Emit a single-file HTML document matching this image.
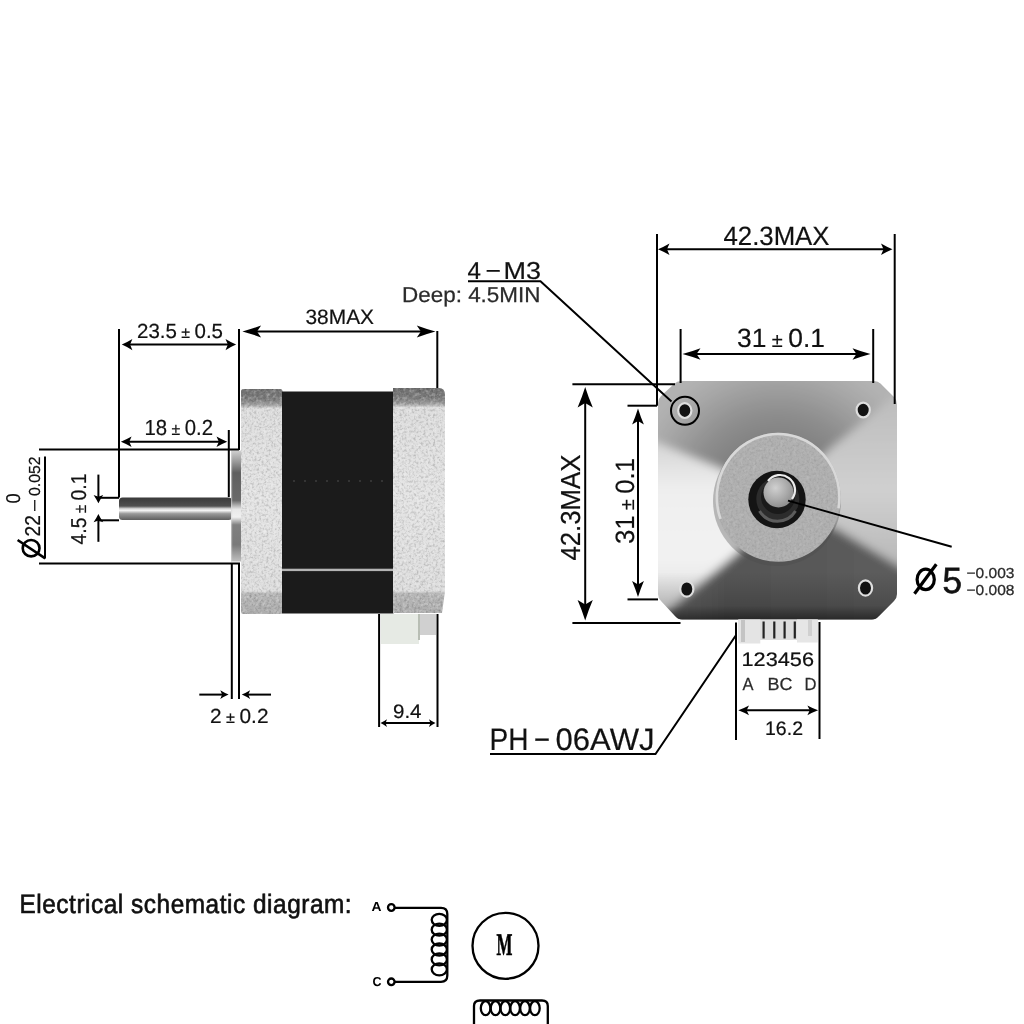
<!DOCTYPE html>
<html><head><meta charset="utf-8">
<style>
html,body{margin:0;padding:0;background:#fff;}
body{width:1024px;height:1024px;position:relative;overflow:hidden;font-family:"Liberation Sans",sans-serif;-webkit-font-smoothing:antialiased;}
svg{position:absolute;left:0;top:0;will-change:transform;}
.plate{position:absolute;left:657px;top:381px;width:240px;height:239px;
 clip-path:polygon(20px 0,216px 0,239px 17px,239px 214px,218px 239px,22px 239px,0 215px,0 21px);
 background:linear-gradient(to bottom,rgba(0,0,0,0) 82%,rgba(0,0,0,0.18) 96%,rgba(0,0,0,0.45) 100%),
 conic-gradient(from 0deg at 121px 118px,#7e7e7e 0deg,#8c8c8c 25deg,#acacac 44deg,#c6c6c6 58deg,#d0d0d0 95deg,#bdbdbd 112deg,#707070 128deg,#565656 180deg,#595959 220deg,#cfcfcf 233deg,#ececec 246deg,#f2f2f2 278deg,#cdcdcd 290deg,#9e9e9e 302deg,#8a8a8a 335deg,#7e7e7e 360deg);}
</style></head>
<body>
<svg width="1024" height="1024" viewBox="0 0 1024 1024" text-rendering="geometricPrecision">
<defs>
  <linearGradient id="shaftG" x1="0" y1="0" x2="0" y2="1">
    <stop offset="0" stop-color="#3a3a3a"/>
    <stop offset="0.38" stop-color="#505050"/>
    <stop offset="0.5" stop-color="#d8d8d8"/>
    <stop offset="0.58" stop-color="#f4f4f4"/>
    <stop offset="0.72" stop-color="#9a9a9a"/>
    <stop offset="1" stop-color="#5e5e5e"/>
  </linearGradient>
  <linearGradient id="bossG" x1="0" y1="0" x2="0" y2="1">
    <stop offset="0" stop-color="#d0d0d0"/>
    <stop offset="0.1" stop-color="#9a9a9a"/>
    <stop offset="0.2" stop-color="#606060"/>
    <stop offset="0.45" stop-color="#6a6a6a"/>
    <stop offset="0.53" stop-color="#e8e8e8"/>
    <stop offset="0.6" stop-color="#f0f0f0"/>
    <stop offset="0.67" stop-color="#808080"/>
    <stop offset="0.85" stop-color="#7a7a7a"/>
    <stop offset="1" stop-color="#c0c0c0"/>
  </linearGradient>
  <linearGradient id="capG" x1="0" y1="0" x2="0" y2="1">
    <stop offset="0" stop-color="#6c6c6c"/>
    <stop offset="0.05" stop-color="#7e7e7e"/>
    <stop offset="0.075" stop-color="#a0a0a0"/>
    <stop offset="0.09" stop-color="#dedede"/>
    <stop offset="0.5" stop-color="#e4e4e4"/>
    <stop offset="0.895" stop-color="#dedede"/>
    <stop offset="0.905" stop-color="#b8b8b8"/>
    <stop offset="1" stop-color="#acacac"/>
  </linearGradient>
  <radialGradient id="shaftF" cx="0.4" cy="0.35" r="0.7">
    <stop offset="0" stop-color="#d0d0d0"/>
    <stop offset="0.6" stop-color="#a8a8a8"/>
    <stop offset="1" stop-color="#8a8a8a"/>
  </radialGradient>
  <marker id="ah" viewBox="0 0 13 13" refX="13" refY="6.5" markerWidth="13" markerHeight="13" markerUnits="userSpaceOnUse" orient="auto-start-reverse">
    <path d="M13 6.5 L0.5 0.8 L3 6.5 L0.5 12.2 Z" fill="#000"/>
  </marker>
  <marker id="ahs" viewBox="0 0 10 10" refX="10" refY="5" markerWidth="10" markerHeight="10" markerUnits="userSpaceOnUse" orient="auto-start-reverse">
    <path d="M10 5 L0.8 0.4 L2.8 5 L0.8 9.6 Z" fill="#000"/>
  </marker>
  <filter id="nzd" x="0" y="0" width="1" height="1">
    <feTurbulence type="fractalNoise" baseFrequency="0.42" numOctaves="2" seed="4"/>
    <feColorMatrix type="matrix" values="0 0 0 0 0  0 0 0 0 0  0 0 0 0 0  2.0 0 0 0 -0.9"/>
    <feComposite in2="SourceAlpha" operator="in"/>
  </filter>
  <filter id="nzl" x="0" y="0" width="1" height="1">
    <feTurbulence type="fractalNoise" baseFrequency="0.3" numOctaves="2" seed="9"/>
    <feColorMatrix type="matrix" values="0 0 0 0 1  0 0 0 0 1  0 0 0 0 1  2.0 0 0 0 -0.9"/>
    <feComposite in2="SourceAlpha" operator="in"/>
  </filter>
  <clipPath id="capL"><rect x="241" y="389" width="41.5" height="225" rx="2.5"/></clipPath>
  <clipPath id="capR"><path d="M393 388 H439 Q445 388 445 395 V591 L442 613 H393 Z"/></clipPath>
  <clipPath id="bossC"><ellipse cx="778.1" cy="497.3" rx="62.5" ry="64.5"/></clipPath>
</defs>

<!-- shaft -->
<rect x="119" y="497.5" width="113" height="22.5" rx="3.5" fill="url(#shaftG)"/>
<!-- boss -->
<rect x="231" y="450.5" width="10.5" height="111" fill="url(#bossG)"/><rect x="231" y="450.5" width="1.2" height="111" fill="#d8d8d8" opacity="0.6"/>
<!-- front endcap -->
<g clip-path="url(#capL)">
  <rect x="240" y="388" width="44" height="227" fill="url(#capG)"/>
  <rect x="240" y="388" width="44" height="227" fill="#000" filter="url(#nzd)" opacity="0.22"/>
  <rect x="240" y="388" width="44" height="227" fill="#fff" filter="url(#nzl)" opacity="0.4"/>
</g>
<!-- black body -->
<rect x="282" y="391.5" width="111.5" height="222" fill="#1b1b1b"/>
<rect x="282" y="568.7" width="111" height="2.4" fill="#b4b4b4"/>
<g fill="#555"><circle cx="294" cy="481" r="0.8"/><circle cx="305" cy="481" r="0.8"/><circle cx="316" cy="481" r="0.8"/><circle cx="327" cy="481" r="0.8"/><circle cx="338" cy="481" r="0.8"/><circle cx="349" cy="481" r="0.8"/><circle cx="360" cy="481" r="0.8"/><circle cx="371" cy="481" r="0.8"/><circle cx="382" cy="481" r="0.8"/></g>
<!-- rear endcap -->
<g clip-path="url(#capR)">
  <rect x="392" y="387" width="54" height="228" fill="url(#capG)"/>
  <rect x="392" y="387" width="54" height="228" fill="#000" filter="url(#nzd)" opacity="0.22"/>
  <rect x="392" y="387" width="54" height="228" fill="#fff" filter="url(#nzl)" opacity="0.4"/>
</g>
<!-- connector side -->
<rect x="381" y="614" width="38" height="30" fill="#e6eae4"/>
<rect x="418" y="614" width="2" height="26" fill="#b8beb4"/>
<rect x="420" y="614" width="16" height="21" fill="#d0d0d0"/>

<!-- ============ FRONT PLATE ============ -->
<clipPath id="plateC"><path d="M677 381 H874 Q878 381 881 384 L894 397 Q897 400 897 404 V594 Q897 598 894 601 L879 616 Q876 619.5 872 619.5 H682 Q678 619.5 675 616 L661 601 Q658 598 658 594 V403 Q658 399 661 396 L674 384 Q677 381 681 381 Z"/></clipPath>
<filter id="pblur" x="-10%" y="-10%" width="120%" height="120%"><feGaussianBlur stdDeviation="5"/></filter>
<radialGradient id="pTop" cx="778" cy="505" r="150" gradientUnits="userSpaceOnUse">
  <stop offset="0.4" stop-color="#7e7e7e"/><stop offset="0.62" stop-color="#8e8e8e"/><stop offset="0.85" stop-color="#a6a6a6"/><stop offset="1" stop-color="#b2b2b2"/>
</radialGradient>
<linearGradient id="pRight" x1="0" y1="400" x2="0" y2="580" gradientUnits="userSpaceOnUse">
  <stop offset="0" stop-color="#bdbdbd"/><stop offset="0.5" stop-color="#d0d0d0"/><stop offset="1" stop-color="#b4b4b4"/>
</linearGradient>
<linearGradient id="pBot" x1="657" y1="0" x2="897" y2="0" gradientUnits="userSpaceOnUse">
  <stop offset="0" stop-color="#6a6a6a"/><stop offset="0.3" stop-color="#565656"/><stop offset="1" stop-color="#5c5c5c"/>
</linearGradient>
<linearGradient id="pLeft" x1="0" y1="440" x2="0" y2="610" gradientUnits="userSpaceOnUse">
  <stop offset="0" stop-color="#d4d4d4"/><stop offset="0.3" stop-color="#efefef"/><stop offset="0.7" stop-color="#f2f2f2"/><stop offset="1" stop-color="#dcdcdc"/>
</linearGradient>
<linearGradient id="pShade" x1="0" y1="381" x2="0" y2="620" gradientUnits="userSpaceOnUse">
  <stop offset="0.8" stop-color="#000" stop-opacity="0"/><stop offset="0.94" stop-color="#000" stop-opacity="0.18"/><stop offset="1" stop-color="#000" stop-opacity="0.55"/>
</linearGradient>
<g clip-path="url(#plateC)">
 <g filter="url(#pblur)">
  <polygon points="778,499 718,468 630,432 630,350 930,350 925,372 833,447" fill="url(#pTop)"/>
  <polygon points="778,499 833,447 925,372 930,585 839,530" fill="url(#pRight)"/>
  <polygon points="778,499 839,530 930,585 930,650 630,650 650,625 738,552" fill="url(#pBot)"/>
  <polygon points="778,499 738,552 650,625 630,625 630,432 718,468" fill="url(#pLeft)"/>
 </g>
 <rect x="650" y="375" width="260" height="250" fill="url(#pShade)"/>
</g>

<!-- boss front -->
<ellipse cx="777" cy="501" rx="64" ry="65" fill="#4a4a4a" opacity="0.35"/>
<g clip-path="url(#bossC)">
  <rect x="714" y="432" width="132" height="132" fill="#b0b0b0"/>
  <rect x="714" y="432" width="132" height="132" fill="#000" filter="url(#nzd)" opacity="0.1"/>
  <rect x="714" y="432" width="132" height="132" fill="#fff" filter="url(#nzl)" opacity="0.15"/>
</g>
<path d="M720.5 518.9 A61.3 63.3 0 1 1 838.5 508.3" fill="none" stroke="#d8d8d8" stroke-width="2.6"/>
<circle cx="777" cy="499.5" r="28.7" fill="#141414"/>
<circle cx="777.8" cy="499" r="21.5" fill="#2c2c2c"/>
<circle cx="778" cy="497" r="17" fill="#1a1a1a"/>
<path d="M795.5 511 A21 21 0 0 1 759.5 511" fill="none" stroke="#5c5c5c" stroke-width="3"/>
<circle cx="778.5" cy="492.5" r="15" fill="url(#shaftF)"/>
<path d="M768 481 A15 15 0 0 1 792 499" fill="none" stroke="#ececec" stroke-width="2.2"/>
<!-- holes -->
<g fill="#121212" stroke="#dedede" stroke-width="2.2">
  <ellipse cx="684.8" cy="410.6" rx="6.6" ry="7.4"/>
  <ellipse cx="863.2" cy="410" rx="6.6" ry="7.4"/>
  <ellipse cx="686.8" cy="589" rx="6.6" ry="7.6"/>
  <ellipse cx="865.5" cy="588" rx="6.6" ry="7.6"/>
</g>
<!-- connector front -->
<rect x="738.3" y="619.5" width="79.5" height="20.5" fill="#dcdcdc"/>
<rect x="738.3" y="619.5" width="22" height="24" fill="#e4e4e4"/>
<rect x="741" y="620" width="4" height="22" fill="#c4c4c4"/>
<rect x="797" y="619.5" width="20.8" height="23" fill="#e6e6e6"/>
<rect x="808" y="620" width="4" height="16" fill="#d0d0d0"/>
<g fill="#222"><rect x="762.5" y="621.5" width="2.2" height="17"/><rect x="773.2" y="621.5" width="2.2" height="17"/><rect x="783.5" y="621.5" width="2.2" height="17"/><rect x="793.7" y="621.5" width="2.2" height="17"/></g>

<g stroke="#000" stroke-width="2" fill="none">
  <path d="M119 329 V497.5"/>
  <path d="M239 329 V450"/>
  <path d="M437.3 331 V388"/>
  <path d="M228.8 430 V497"/>
  <path d="M39 449.5 H239"/>
  <path d="M39 563.4 H240"/>
  <path d="M45 456.5 V558.4"/>
  <path d="M98.4 497.8 H119"/>
  <path d="M98.4 520.3 H119"/>
  <path d="M231.8 563 V699"/>
  <path d="M239 563 V699"/>
  <path d="M379.1 614 V727"/>
  <path d="M437.5 614 V727"/>
  <path d="M657 234 V405.7"/>
  <path d="M894.7 234 V404"/>
  <path d="M680.6 329 V383"/>
  <path d="M873.2 329 V383"/>
  <path d="M572.4 384.3 H675"/>
  <path d="M572.4 623 H680.5"/>
  <path d="M627.5 405.7 H657"/>
  <path d="M627.5 599.4 H658"/>
  <path d="M736 622.5 V740"/>
  <path d="M819.5 622 V739"/>
  <path d="M468 281.2 H540.5 L671.5 401.6"/>
  <circle cx="685" cy="410.8" r="14"/>
  <path d="M788 500.6 L951.7 546.7"/>
  <path d="M490 754 H655.5 L735.8 635.5"/>
</g>
<g fill="#000"><path d="M128.16 344.6 H229.74" stroke="#000" stroke-width="2" fill="none"/><path d="M121.80 344.60 Q127.10 342.25 132.40 339.00 L130.07 344.60 L132.40 350.20 Q127.10 346.95 121.80 344.60Z"/><path d="M236.10 344.60 Q230.80 346.95 225.50 350.20 L227.83 344.60 L225.50 339.00 Q230.80 342.25 236.10 344.60Z"/><path d="M253.62 331.4 H424.28" stroke="#000" stroke-width="2" fill="none"/><path d="M242.40 331.40 Q251.75 328.88 261.10 325.40 L256.99 331.40 L261.10 337.40 Q251.75 333.92 242.40 331.40Z"/><path d="M435.50 331.40 Q426.15 333.92 416.80 337.40 L420.91 331.40 L416.80 325.40 Q426.15 328.88 435.50 331.40Z"/><path d="M127.32 441.7 H220.78" stroke="#000" stroke-width="2" fill="none"/><path d="M120.90 441.70 Q126.25 439.52 131.60 436.50 L129.25 441.70 L131.60 446.90 Q126.25 443.88 120.90 441.70Z"/><path d="M227.20 441.70 Q221.85 443.88 216.50 446.90 L218.85 441.70 L216.50 436.50 Q221.85 439.52 227.20 441.70Z"/><path d="M384.40 723.1 H431.60" stroke="#000" stroke-width="2" fill="none"/><path d="M380.50 723.10 Q383.75 721.46 387.00 719.20 L385.57 723.10 L387.00 727.00 Q383.75 724.74 380.50 723.10Z"/><path d="M435.50 723.10 Q432.25 724.74 429.00 727.00 L430.43 723.10 L429.00 719.20 Q432.25 721.46 435.50 723.10Z"/><path d="M664.90 249.3 H885.60" stroke="#000" stroke-width="2" fill="none"/><path d="M658.00 249.30 Q663.75 246.86 669.50 243.50 L666.97 249.30 L669.50 255.10 Q663.75 251.74 658.00 249.30Z"/><path d="M892.50 249.30 Q886.75 251.74 881.00 255.10 L883.53 249.30 L881.00 243.50 Q886.75 246.86 892.50 249.30Z"/><path d="M693.30 354.0 H859.70" stroke="#000" stroke-width="2" fill="none"/><path d="M682.50 354.00 Q691.50 351.56 700.50 348.20 L696.54 354.00 L700.50 359.80 Q691.50 356.44 682.50 354.00Z"/><path d="M870.50 354.00 Q861.50 356.44 852.50 359.80 L856.46 354.00 L852.50 348.20 Q861.50 351.56 870.50 354.00Z"/><path d="M585.2 399.20 V608.10" stroke="#000" stroke-width="2" fill="none"/><path d="M585.20 386.90 Q588.39 397.15 592.80 407.40 L585.20 402.89 L577.60 407.40 Q582.01 397.15 585.20 386.90Z"/><path d="M585.20 620.40 Q582.01 610.15 577.60 599.90 L585.20 604.41 L592.80 599.90 Q588.39 610.15 585.20 620.40Z"/><path d="M638.0 418.00 V587.40" stroke="#000" stroke-width="2" fill="none"/><path d="M638.00 408.40 Q640.48 416.40 643.90 424.40 L638.00 420.88 L632.10 424.40 Q635.52 416.40 638.00 408.40Z"/><path d="M638.00 597.00 Q635.52 589.00 632.10 581.00 L638.00 584.52 L643.90 581.00 Q640.48 589.00 638.00 597.00Z"/><path d="M744.72 710.3 H811.68" stroke="#000" stroke-width="2" fill="none"/><path d="M738.30 710.30 Q743.65 708.24 749.00 705.40 L746.65 710.30 L749.00 715.20 Q743.65 712.36 738.30 710.30Z"/><path d="M818.10 710.30 Q812.75 712.36 807.40 715.20 L809.75 710.30 L807.40 705.40 Q812.75 708.24 818.10 710.30Z"/><path d="M98.4 474.6 V498" stroke="#000" stroke-width="2" fill="none"/><path d="M98.40 503.20 Q96.38 499.05 93.60 494.90 L98.40 496.73 L103.20 494.90 Q100.42 499.05 98.40 503.20Z"/><path d="M98.4 541.8 V519" stroke="#000" stroke-width="2" fill="none"/><path d="M98.40 514.00 Q100.42 518.15 103.20 522.30 L98.40 520.47 L93.60 522.30 Q96.38 518.15 98.40 514.00Z"/><path d="M199.3 694.6 H223" stroke="#000" stroke-width="2" fill="none"/><path d="M228.60 694.60 Q224.45 696.45 220.30 699.00 L222.13 694.60 L220.30 690.20 Q224.45 692.75 228.60 694.60Z"/><path d="M271 694.6 H247" stroke="#000" stroke-width="2" fill="none"/><path d="M241.80 694.60 Q245.95 692.75 250.10 690.20 L248.27 694.60 L250.10 699.00 Q245.95 696.45 241.80 694.60Z"/></g>

<g font-family="Liberation Sans, sans-serif" fill="#111" stroke="#111" stroke-width="0.2">
  <text x="137" y="337.5" font-size="20.5" textLength="86" lengthAdjust="spacingAndGlyphs">23.5<tspan font-size="16"> ± </tspan>0.5</text>
  <text x="305.5" y="324.2" font-size="20.8" textLength="68.5" lengthAdjust="spacingAndGlyphs">38MAX</text>
  <text x="144.5" y="435.3" font-size="21.8" textLength="68.5" lengthAdjust="spacingAndGlyphs">18<tspan font-size="17"> ± </tspan>0.2</text>
  <text x="210" y="723" font-size="20.5" textLength="58.5" lengthAdjust="spacingAndGlyphs">2<tspan font-size="16"> ± </tspan>0.2</text>
  <text x="393" y="718" font-size="19.5" textLength="28.5" lengthAdjust="spacingAndGlyphs">9.4</text>
  <text x="723.5" y="244.8" font-size="26.5" textLength="106" lengthAdjust="spacingAndGlyphs">42.3MAX</text>
  <text x="737" y="347" font-size="26.5" textLength="88" lengthAdjust="spacingAndGlyphs">31<tspan font-size="20"> ± </tspan>0.1</text>
  <text transform="translate(579.8 560.6) rotate(-90)" font-size="27.5" textLength="106" lengthAdjust="spacingAndGlyphs">42.3MAX</text>
  <text transform="translate(634 544) rotate(-90)" font-size="26.5" textLength="86" lengthAdjust="spacingAndGlyphs">31<tspan font-size="20"> ± </tspan>0.1</text>
  <text transform="translate(85.5 544.5) rotate(-90)" font-size="21.5" textLength="71" lengthAdjust="spacingAndGlyphs">4.5<tspan font-size="17"> ± </tspan>0.1</text>
  <text transform="translate(40 536.5) rotate(-90)" font-size="21.5" textLength="21.5" lengthAdjust="spacingAndGlyphs">22</text>
  <text transform="translate(40 512) rotate(-90)" font-size="16" textLength="13" lengthAdjust="spacingAndGlyphs">−</text>
  <text transform="translate(40 496) rotate(-90)" font-size="16" textLength="39.5" lengthAdjust="spacingAndGlyphs">0.052</text>
  <text transform="translate(19.7 503.5) rotate(-90)" font-size="20" textLength="10.2" lengthAdjust="spacingAndGlyphs">0</text>
  <text x="467.5" y="279.4" font-size="24.5" textLength="13.5" lengthAdjust="spacingAndGlyphs">4</text><text x="485.5" y="279.4" font-size="24.5" textLength="15.5" lengthAdjust="spacingAndGlyphs">−</text><text x="503.5" y="279.4" font-size="24.5" textLength="37.5" lengthAdjust="spacingAndGlyphs">M3</text>
  <text x="942.5" y="593" font-size="36.5" textLength="19.5" lengthAdjust="spacingAndGlyphs" stroke-width="0.7">5</text>
  <text x="741.5" y="666.4" font-size="19.5" textLength="72.5" lengthAdjust="spacingAndGlyphs">123456</text>
  <text x="765" y="735" font-size="19.5" textLength="38" lengthAdjust="spacingAndGlyphs">16.2</text>
  <text x="489.5" y="750.2" font-size="31" textLength="39" lengthAdjust="spacingAndGlyphs">PH</text><text x="534" y="750.2" font-size="31" textLength="16" lengthAdjust="spacingAndGlyphs">−</text><text x="555.5" y="750.2" font-size="31" textLength="99" lengthAdjust="spacingAndGlyphs">06AWJ</text>
</g>
<g font-family="Liberation Sans, sans-serif" fill="#2a2a2a" stroke="#2a2a2a" stroke-width="0.25">
  <text x="402" y="301.7" font-size="21.5" textLength="138.5" lengthAdjust="spacingAndGlyphs">Deep: 4.5MIN</text>
  <text x="966.5" y="578.4" font-size="14.5" textLength="48" lengthAdjust="spacingAndGlyphs">−0.003</text>
  <text x="966.5" y="594.5" font-size="14.5" textLength="48" lengthAdjust="spacingAndGlyphs">−0.008</text>
  <text x="742.5" y="690" font-size="17.5" textLength="11" lengthAdjust="spacingAndGlyphs">A</text>
  <text x="767.5" y="690" font-size="17.5" textLength="25" lengthAdjust="spacingAndGlyphs">BC</text>
  <text x="804.5" y="690" font-size="17.5" textLength="12" lengthAdjust="spacingAndGlyphs">D</text>
</g>
<g font-family="Liberation Sans, sans-serif" fill="#111" stroke="#111" stroke-width="0.65">
  <text transform="scale(0.92 1)" x="21.2" y="913" font-size="26.5" textLength="361" lengthAdjust="spacing">Electrical schematic diagram:</text>
</g>
<g stroke="#000" fill="none">
  <ellipse cx="31.1" cy="548.2" rx="8.4" ry="8.2" stroke-width="2.6"/>
  <path d="M17.6 540 L45.2 558.4" stroke-width="2.6"/>
  <ellipse cx="925.7" cy="579.4" rx="8.6" ry="10.2" stroke-width="3.2"/>
  <path d="M914.5 593.8 L936.3 564.3" stroke-width="3.2"/>
</g>

<g stroke="#000" stroke-width="2.3" fill="none">
  <circle cx="391.3" cy="907.5" r="3.3"/>
  <circle cx="391.3" cy="981.8" r="3.3"/>
  <path d="M394.6 907.8 H441 Q447.3 907.8 447.3 914 V975.5 Q447.3 981.8 441 981.8 H394.6"/>
  <ellipse cx="439.3" cy="919.8" rx="7.6" ry="6"/><ellipse cx="439.3" cy="929.7" rx="7.6" ry="6"/><ellipse cx="439.3" cy="939.6" rx="7.6" ry="6"/><ellipse cx="439.3" cy="949.5" rx="7.6" ry="6"/><ellipse cx="439.3" cy="959.4" rx="7.6" ry="6"/><ellipse cx="439.3" cy="969.3" rx="7.6" ry="6"/>
  <circle cx="505.5" cy="945.8" r="33"/>
  <path d="M474 1024 V1006 Q474 1000.5 480 1000.5 H542 Q547.8 1000.5 547.8 1006 V1024"/>
  <ellipse cx="485.6" cy="1008.2" rx="4.8" ry="7"/><ellipse cx="495.5" cy="1008.2" rx="4.8" ry="7"/><ellipse cx="505.3" cy="1008.2" rx="4.8" ry="7"/><ellipse cx="515.1" cy="1008.2" rx="4.8" ry="7"/><ellipse cx="525.0" cy="1008.2" rx="4.8" ry="7"/><ellipse cx="534.9" cy="1008.2" rx="4.8" ry="7"/>
</g>
<g font-family="Liberation Sans, sans-serif" font-weight="bold" fill="#000">
  <text x="371.5" y="911.3" font-size="13" textLength="10" lengthAdjust="spacingAndGlyphs">A</text>
  <text x="372.5" y="986.4" font-size="13" textLength="9" lengthAdjust="spacingAndGlyphs">C</text>
</g>
<text x="496.6" y="954.5" font-family="Liberation Serif, serif" font-weight="bold" font-size="31.5" textLength="15.9" lengthAdjust="spacingAndGlyphs" stroke="#000" stroke-width="0.6">M</text>
</svg>
</body></html>
